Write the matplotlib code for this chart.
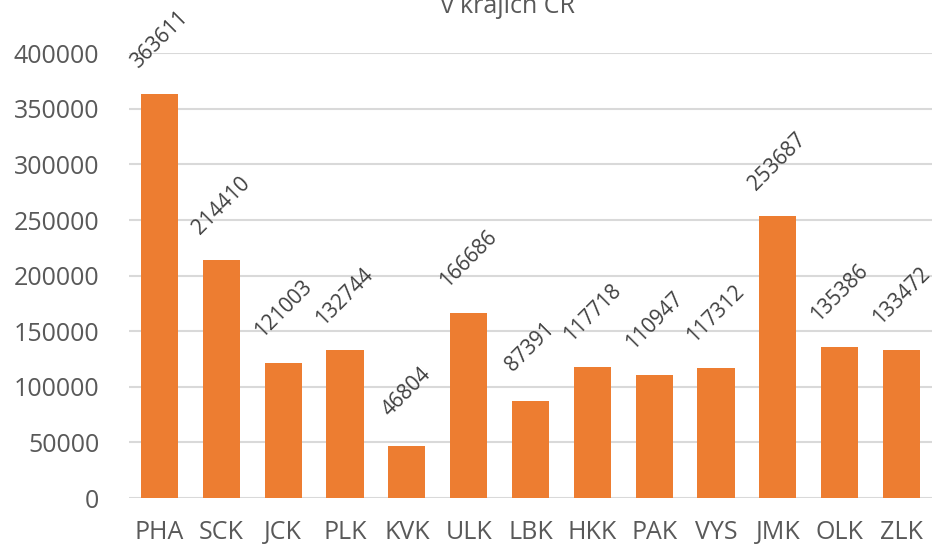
import numpy as np
import matplotlib
matplotlib.use("Agg")
import matplotlib.pyplot as plt

# kraje a hodnoty
regions = ["PHA", "SCK", "JCK", "PLK", "KVK", "ULK", "LBK",
           "HKK", "PAK", "VYS", "JMK", "OLK", "ZLK"]
values = [363611, 214410, 121003, 132744, 46804, 166686, 87391,
          117718, 110947, 117312, 253687, 135386, 133472]
yticks = [0, 50000, 100000, 150000, 200000, 250000, 300000, 350000, 400000]

plt.rcParams['font.family'] = ['Open Sans', 'DejaVu Sans']

fig = plt.figure(figsize=(9.35, 5.48), dpi=100)
ax = fig.add_axes([128.6/935, 1 - 498/548, (932.4 - 128.6)/935, (498 - 53.3)/548])

x = np.arange(len(regions))
ax.bar(x, values, width=0.6, color="#ED7D31", zorder=3)

for xi, v in zip(x, values):
    ax.annotate(str(v), (xi, v), xytext=(0, 39), textcoords="offset points",
                ha="center", va="center", rotation=45, fontsize=15,
                color="#404040", zorder=4)

ax.set_xlim(-0.5, len(regions) - 0.5)
ax.set_ylim(0, 400000)
ax.set_yticks(yticks)
ax.set_yticklabels([str(t) for t in yticks])
ax.set_xticks(x)
ax.set_xticklabels(regions)

ax.grid(axis="y", color="#D9D9D9", linewidth=1.5, zorder=0)
for s in ax.spines.values():
    s.set_visible(False)
ax.tick_params(axis="both", length=0, labelsize=18, colors="#595959")
ax.tick_params(axis="y", pad=21)
ax.tick_params(axis="x", pad=16)

fig.text(508/935, 1 - 13/548, "v krajích ČR", ha="center", va="baseline",
         fontsize=18, color="#595959")

fig.savefig("out.png", dpi=100)
